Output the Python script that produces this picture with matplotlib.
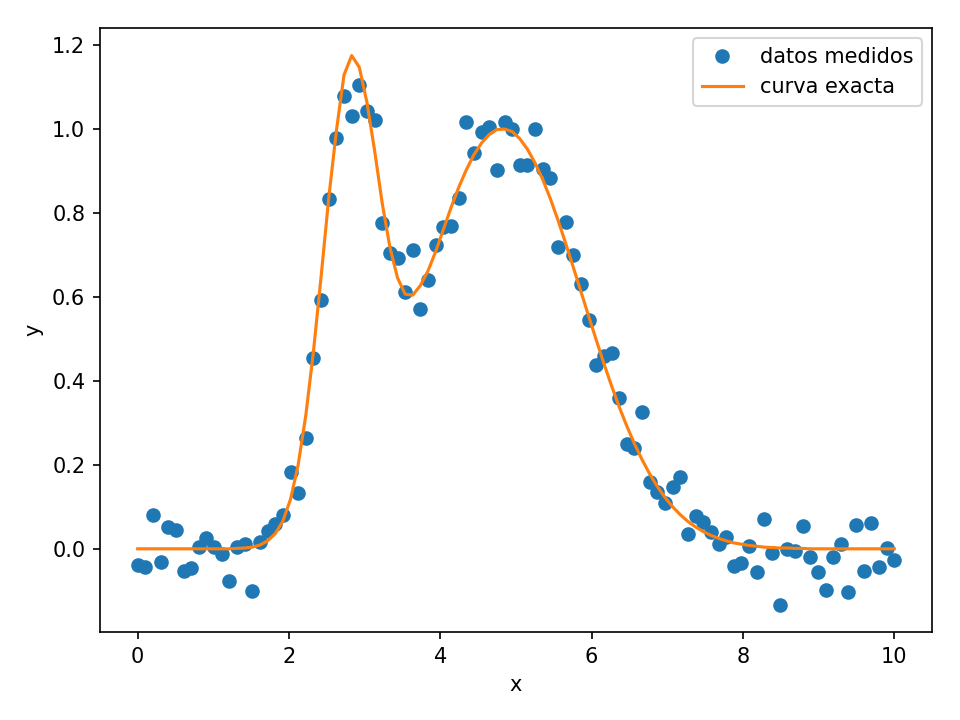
"""Measured data vs exact curve (two overlapping peaks)."""

import matplotlib

matplotlib.use("Agg")
import matplotlib.pyplot as plt
import numpy as np

# 100 evenly spaced sample positions on [0, 10]
x = np.linspace(0, 10, 100)

y_measured = [
    -0.038, -0.043, 0.081, -0.031, 0.052, 0.045, -0.052, -0.045, 0.005, 0.026,
    0.005, -0.012, -0.076, 0.005, 0.012, -0.100, 0.017, 0.043, 0.059, 0.081,
    0.183, 0.133, 0.264, 0.454, 0.592, 0.832, 0.977, 1.077, 1.031, 1.105,
    1.041, 1.020, 0.775, 0.703, 0.692, 0.611, 0.711, 0.570, 0.639, 0.722,
    0.765, 0.768, 0.834, 1.015, 0.943, 0.993, 1.003, 0.901, 1.017, 1.000,
    0.913, 0.913, 1.000, 0.903, 0.882, 0.718, 0.779, 0.699, 0.630, 0.544,
    0.437, 0.459, 0.466, 0.359, 0.250, 0.240, 0.326, 0.159, 0.135, 0.109,
    0.147, 0.171, 0.036, 0.078, 0.064, 0.040, 0.012, 0.029, -0.040, -0.033,
    0.007, -0.055, 0.071, -0.010, -0.133, 0.000, -0.005, 0.055, -0.019, -0.055,
    -0.097, -0.019, 0.012, -0.102, 0.057, -0.052, 0.062, -0.043, 0.002, -0.026,
]

# exact curve sampled at the same positions
y_exact = [
    0.000, 0.000, 0.000, 0.000, 0.000, 0.000, 0.000, 0.000, 0.000, 0.000,
    0.000, 0.000, 0.000, 0.001, 0.002, 0.004, 0.009, 0.019, 0.036, 0.066,
    0.118, 0.200, 0.318, 0.470, 0.648, 0.835, 0.995, 1.128, 1.174, 1.146,
    1.062, 0.948, 0.822, 0.718, 0.645, 0.606, 0.604, 0.627, 0.662, 0.708,
    0.760, 0.812, 0.860, 0.902, 0.938, 0.966, 0.986, 0.998, 0.999, 0.993,
    0.976, 0.951, 0.918, 0.879, 0.833, 0.782, 0.727, 0.670, 0.612, 0.554,
    0.497, 0.441, 0.388, 0.338, 0.292, 0.250, 0.212, 0.178, 0.148, 0.122,
    0.100, 0.081, 0.065, 0.052, 0.041, 0.032, 0.025, 0.019, 0.014, 0.011,
    0.008, 0.006, 0.004, 0.003, 0.002, 0.002, 0.001, 0.001, 0.000, 0.000,
    0.000, 0.000, 0.000, 0.000, 0.000, 0.000, 0.000, 0.000, 0.000, 0.000,
]

fig, ax = plt.subplots(figsize=(6.4, 4.8), dpi=150)
ax.plot(x, y_measured, "o", label="datos medidos")
ax.plot(x, y_exact, "-", label="curva exacta")
ax.set_xlabel("x")
ax.set_ylabel("y")
ax.legend()
fig.subplots_adjust(left=0.104, right=0.971, top=0.961, bottom=0.122)
fig.savefig("out.png", dpi=150)
plt.close(fig)
